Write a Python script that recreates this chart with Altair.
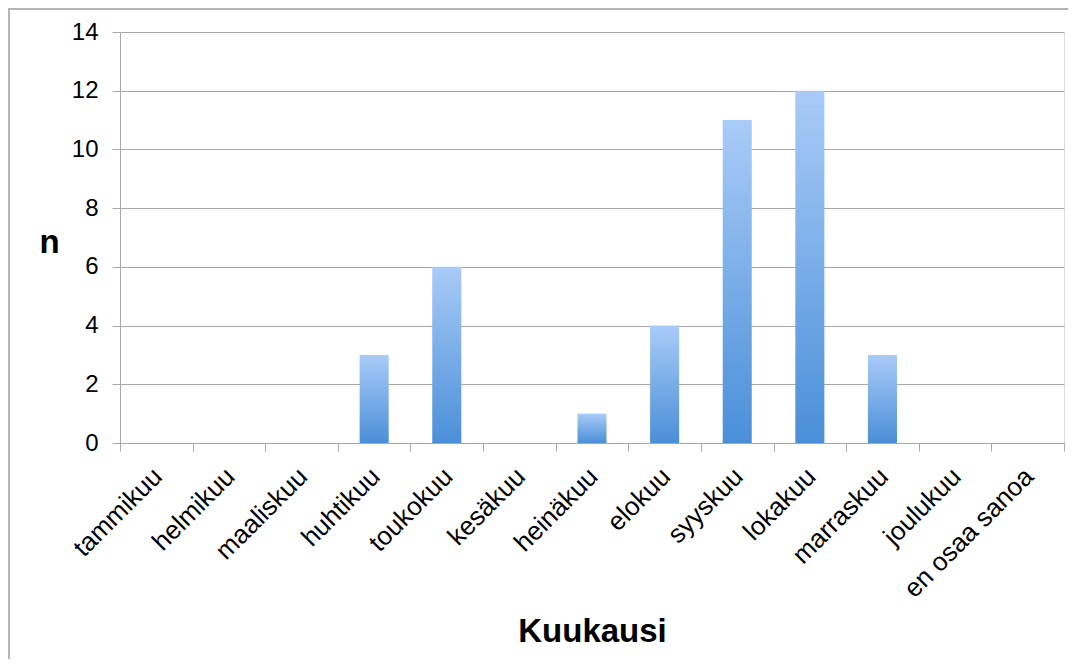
import altair as alt
import pandas as pd

months = ["tammikuu", "helmikuu", "maaliskuu", "huhtikuu", "toukokuu", "kesäkuu",
          "heinäkuu", "elokuu", "syyskuu", "lokakuu", "marraskuu", "joulukuu",
          "en osaa sanoa"]
counts = [0, 0, 0, 3, 6, 0, 1, 4, 11, 12, 3, 0, 0]
y_ticks = [0, 2, 4, 6, 8, 10, 12, 14]

df = pd.DataFrame({"kk": months, "n": counts})

FONT = "Liberation Sans"
GRID = "#a8a8a8"

gradient = alt.LinearGradient(
    gradient="linear",
    stops=[alt.GradientStop(color="#a9cbf8", offset=0),
           alt.GradientStop(color="#4a8fd8", offset=1)],
    x1=0, x2=0, y1=0, y2=1,
)

bars = alt.Chart(df).mark_bar(color=gradient, width=alt.RelativeBandSize(0.4)).encode(
    x=alt.X("kk:N", sort=months,
            scale=alt.Scale(paddingInner=0, paddingOuter=0),
            axis=alt.Axis(title="Kuukausi", labelAngle=-45, labelFontSize=26,
                          labelFont=FONT, labelColor="black", labelPadding=12,
                          labelOffset=-8,
                          tickBand="extent", tickSize=8, tickColor=GRID,
                          domainColor=GRID, grid=False,
                          titleFont=FONT, titleFontSize=33, titleFontWeight="bold",
                          titleColor="black", titleBaseline="alphabetic",
                          titleY=198)),
    y=alt.Y("n:Q", scale=alt.Scale(domain=[0, 14], nice=False),
            axis=alt.Axis(title="n", values=y_ticks, labelFontSize=24,
                          labelFont=FONT, labelColor="black", labelPadding=14,
                          tickSize=8, tickColor=GRID, domainColor=GRID,
                          gridColor=GRID, titleAngle=0, titleFont=FONT,
                          titleFontSize=33, titleFontWeight="bold",
                          titleColor="black", titleAlign="center",
                          titleBaseline="alphabetic", titleX=-71, titleY=220)),
)

left_border = alt.Chart(df).mark_rule(color="#b4b4b4", strokeWidth=2).encode(
    x=alt.value(-111), y=alt.value(-23), y2=alt.value(800)
)
top_border = alt.Chart(df).mark_rule(color="#b4b4b4", strokeWidth=2).encode(
    x=alt.value(-112), x2=alt.value(1200), y=alt.value(-23)
)

chart = alt.layer(bars, left_border, top_border).properties(
    width=944, height=411,
    autosize=alt.AutoSizeParams(type="none"),
    padding={"left": 112, "top": 24, "right": 4, "bottom": 216},
).configure_view(stroke="transparent", strokeWidth=0).configure(background="white")

chart.save("out.html", embed_options={"renderer": "svg", "actions": False})
